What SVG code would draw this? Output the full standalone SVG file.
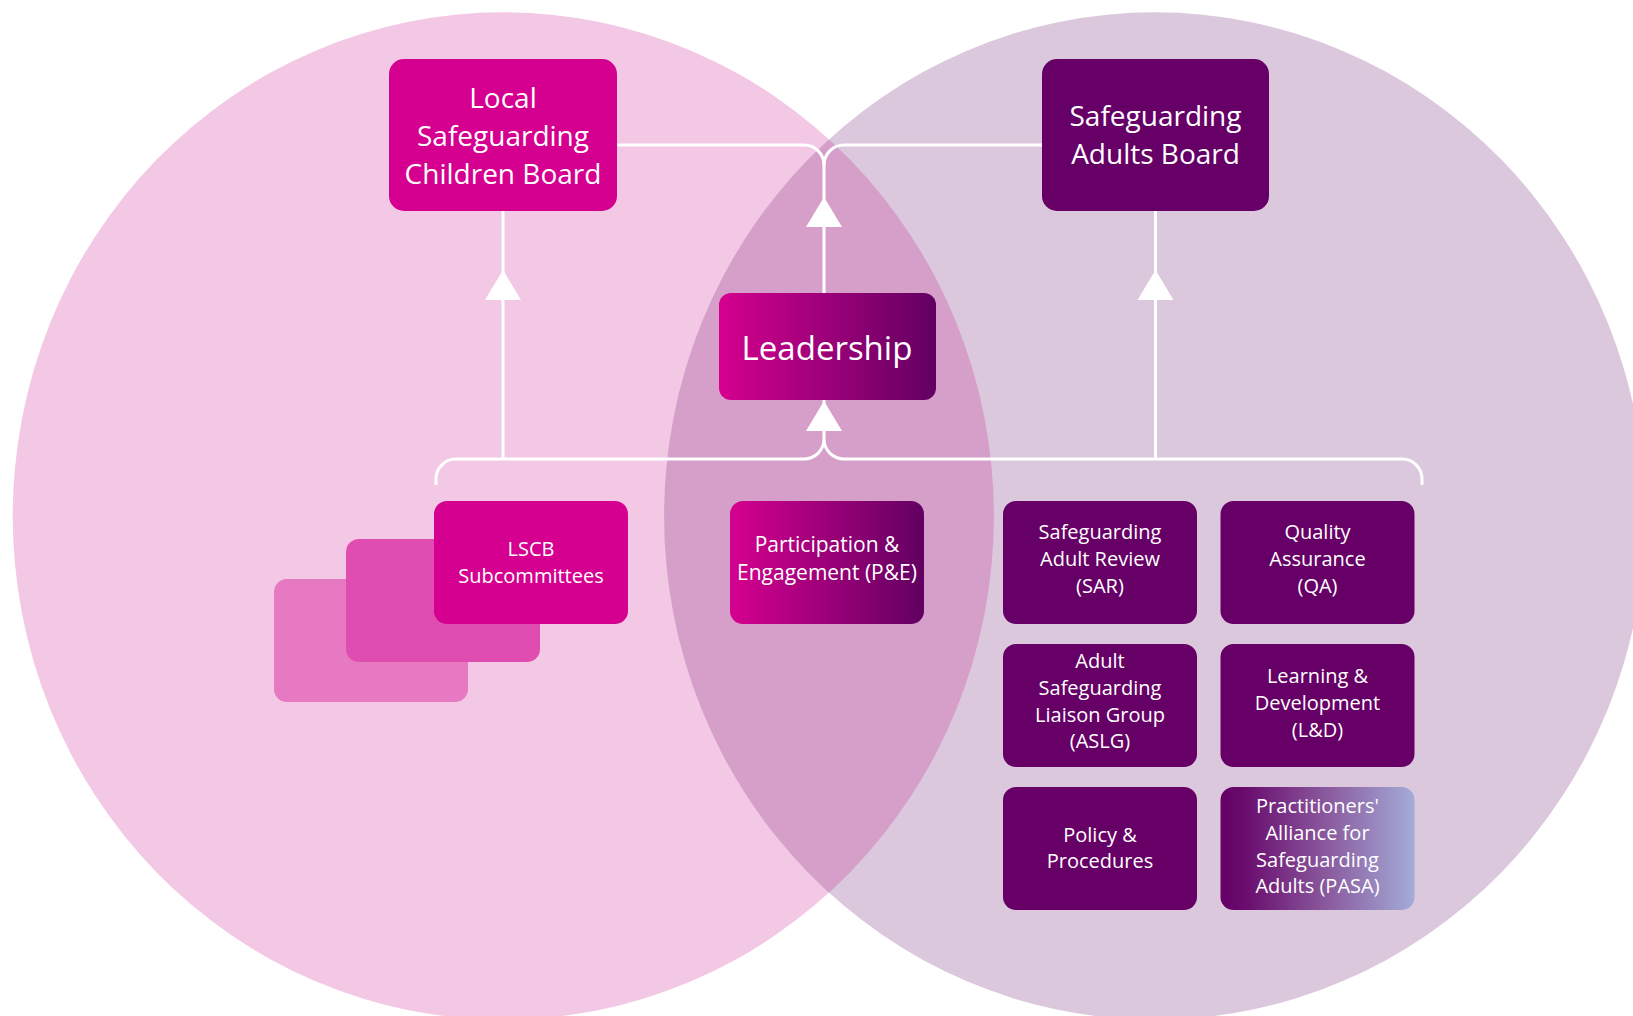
<svg xmlns="http://www.w3.org/2000/svg" width="1633" height="1016" viewBox="0 0 1633 1016">
<defs>
<style>
text{font-family:"Open Sans","Liberation Sans",sans-serif;fill:#ffffff;text-anchor:middle}
.board{font-size:28px}
.lead{font-size:33px}
.sm{font-size:20px}
.pe{font-size:21px}
.conn{fill:none;stroke:#ffffff;stroke-width:3}
.arr{fill:#ffffff}
.mag{fill:#D5008F}
.pur{fill:#660066}
</style>
<linearGradient id="gLead" x1="0" y1="0" x2="1" y2="0">
<stop offset="0" stop-color="#D5008F"/>
<stop offset="1" stop-color="#620062"/>
</linearGradient>
<linearGradient id="gPasa" x1="0" y1="0" x2="1" y2="0">
<stop offset="0" stop-color="#660066"/>
<stop offset="0.12" stop-color="#690b6d"/>
<stop offset="0.55" stop-color="#8a5a9e"/>
<stop offset="1" stop-color="#a3acd8"/>
</linearGradient>
<clipPath id="clipL">
<ellipse cx="503.3" cy="516" rx="490.6" ry="503.7"/>
</clipPath>
<path id="tri" d="M0 0 L18 30 L-18 30 Z"/>
</defs>

<g id="background">
<ellipse cx="503.3" cy="516" rx="490.6" ry="503.7" fill="#F3C8E4"/>
<ellipse cx="1154.7" cy="516" rx="490.6" ry="503.7" fill="#DCC8DC"/>
<ellipse cx="1154.7" cy="516" rx="490.6" ry="503.7" fill="#D59FCA" clip-path="url(#clipL)"/>
</g>

<g id="connectors">
<path class="conn" d="M617 145 H804 A20 20 0 0 1 824 165 V293"/>
<path class="conn" d="M1042 145 H844 A20 20 0 0 0 824 165"/>
<path class="conn" d="M503 211 V459"/>
<path class="conn" d="M1155.5 211 V459"/>
<path class="conn" d="M436 485 V479 A20 20 0 0 1 456 459 H804 A20 20 0 0 0 824 439 V400"/>
<path class="conn" d="M1422 485 V479 A20 20 0 0 0 1402 459 H844 A20 20 0 0 1 824 439"/>
<use href="#tri" class="arr" x="824" y="197"/>
<use href="#tri" class="arr" x="824" y="401"/>
<use href="#tri" class="arr" x="503" y="270"/>
<use href="#tri" class="arr" x="1155.5" y="270"/>
</g>

<g id="lscb">
<rect class="mag" x="389" y="59" width="228" height="152" rx="15"/>
<text class="board" x="503" y="108">Local</text>
<text class="board" x="503" y="146">Safeguarding</text>
<text class="board" x="503" y="184">Children Board</text>
</g>

<g id="sab">
<rect class="pur" x="1042" y="59" width="227" height="152" rx="15"/>
<text class="board" x="1155.5" y="126">Safeguarding</text>
<text class="board" x="1155.5" y="164">Adults Board</text>
</g>

<g id="leadership">
<rect fill="url(#gLead)" x="719" y="293" width="217" height="107" rx="12"/>
<text class="lead" x="827" y="360">Leadership</text>
</g>

<g id="lscb-subcommittees">
<rect fill="#E778C2" x="274" y="579" width="194" height="123" rx="13"/>
<rect fill="#E04DB0" x="346" y="539" width="194" height="123" rx="13"/>
<rect class="mag" x="434" y="501" width="194" height="123" rx="13"/>
<text class="sm" x="531" y="556">LSCB</text>
<text class="sm" x="531" y="583">Subcommittees</text>
</g>

<g id="pe">
<rect fill="url(#gLead)" x="730" y="501" width="194" height="123" rx="13"/>
<text class="pe" x="827" y="552">Participation &amp;</text>
<text class="pe" x="827" y="580">Engagement (P&amp;E)</text>
</g>

<g id="sar">
<rect class="pur" x="1003" y="501" width="194" height="123" rx="13"/>
<text class="sm" x="1100" y="539">Safeguarding</text>
<text class="sm" x="1100" y="566">Adult Review</text>
<text class="sm" x="1100" y="593">(SAR)</text>
</g>

<g id="qa">
<rect class="pur" x="1220.5" y="501" width="194" height="123" rx="13"/>
<text class="sm" x="1317.5" y="539">Quality</text>
<text class="sm" x="1317.5" y="566">Assurance</text>
<text class="sm" x="1317.5" y="593">(QA)</text>
</g>

<g id="aslg">
<rect class="pur" x="1003" y="644" width="194" height="123" rx="13"/>
<text class="sm" x="1100" y="668">Adult</text>
<text class="sm" x="1100" y="695">Safeguarding</text>
<text class="sm" x="1100" y="722">Liaison Group</text>
<text class="sm" x="1100" y="748">(ASLG)</text>
</g>

<g id="ld">
<rect class="pur" x="1220.5" y="644" width="194" height="123" rx="13"/>
<text class="sm" x="1317.5" y="683">Learning &amp;</text>
<text class="sm" x="1317.5" y="710">Development</text>
<text class="sm" x="1317.5" y="737">(L&amp;D)</text>
</g>

<g id="pp">
<rect class="pur" x="1003" y="787" width="194" height="123" rx="13"/>
<text class="sm" x="1100" y="842">Policy &amp;</text>
<text class="sm" x="1100" y="868">Procedures</text>
</g>

<g id="pasa">
<rect fill="url(#gPasa)" x="1220.5" y="787" width="194" height="123" rx="13"/>
<text class="sm" x="1317.5" y="813">Practitioners'</text>
<text class="sm" x="1317.5" y="840">Alliance for</text>
<text class="sm" x="1317.5" y="867">Safeguarding</text>
<text class="sm" x="1317.5" y="893">Adults (PASA)</text>
</g>
</svg>
